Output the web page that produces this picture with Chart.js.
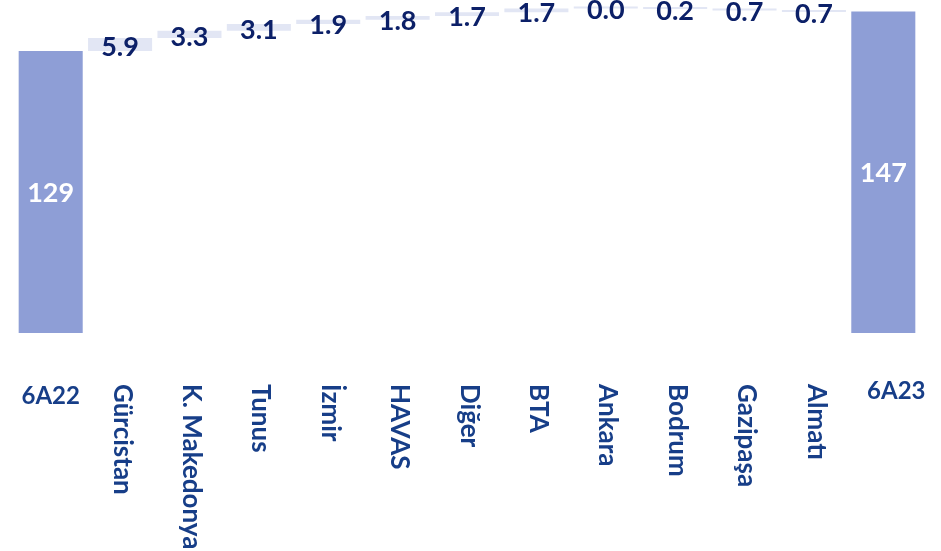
<!DOCTYPE html>
<html>
<head>
<meta charset="utf-8">
<script src="https://cdn.jsdelivr.net/npm/chart.js@4/dist/chart.umd.min.js"></script>
<style>
  html, body { margin: 0; padding: 0; background: #ffffff; }
  #wrap { width: 941px; height: 551px; }
</style>
</head>
<body>
<div id="wrap"><canvas id="c" width="941" height="551"></canvas></div>
<script>
// Waterfall: 6A22 total, change per unit, 6A23 total
const categories = ['6A22', 'Gürcistan', 'K. Makedonya', 'Tunus', 'İzmir', 'HAVAS', 'Diğer', 'BTA', 'Ankara', 'Bodrum', 'Gazipaşa', 'Almatı', '6A23'];
const startTotal = 129;
const endTotal = 147;
const changes = [5.9, 3.3, 3.1, 1.9, 1.8, 1.7, 1.7, 0.0, -0.2, -0.7, -0.7];
const changeLabels = ['5.9', '3.3', '3.1', '1.9', '1.8', '1.7', '1.7', '0.0', '0.2', '0.7', '0.7'];
const totalLabels = ['129', '147'];

const TOTAL_COLOR = '#8e9ed6';
const STEP_COLOR = '#e2e6f4';
const VALUE_COLOR = '#0c2068';
const AXIS_COLOR = '#173e88';
const FONT = 'Lato, "Open Sans", sans-serif';

// floating [from, to] ranges for each bar
const ranges = [[0, startTotal]];
let level = startTotal;
changes.forEach(d => {
  const next = level + d;
  ranges.push([Math.min(level, next), Math.max(level, next)]);
  level = next;
});
ranges.push([0, endTotal]);

const colors = categories.map((_, i) => (i === 0 || i === categories.length - 1) ? TOTAL_COLOR : STEP_COLOR);
const labels = [totalLabels[0], ...changeLabels, totalLabels[1]];

const labelPlugin = {
  id: 'waterfallLabels',
  afterDatasetsDraw(chart) {
    const ctx = chart.ctx;
    const meta = chart.getDatasetMeta(0);
    const xs = chart.scales.x;
    ctx.save();
    meta.data.forEach((bar, i) => {
      const isTotal = (i === 0 || i === categories.length - 1);
      const top = Math.min(bar.y, bar.base);
      const bottom = Math.max(bar.y, bar.base);
      ctx.font = 'bold 27px ' + FONT;
      ctx.textAlign = 'center';
      ctx.textBaseline = 'middle';
      if (isTotal) {
        ctx.fillStyle = '#ffffff';
        ctx.fillText(labels[i], bar.x, (top + bottom) / 2 + 1);
      } else {
        ctx.fillStyle = VALUE_COLOR;
        ctx.fillText(labels[i], bar.x, (top + bottom) / 2 + 3);
      }
    });

    // category labels: totals horizontal, units rotated clockwise
    categories.forEach((name, i) => {
      const x = xs.getPixelForValue(i);
      const isTotal = (i === 0 || i === categories.length - 1);
      ctx.fillStyle = AXIS_COLOR;
      if (isTotal) {
        ctx.font = 'bold 24px ' + FONT;
        ctx.textAlign = 'center';
        ctx.textBaseline = 'middle';
        ctx.fillText(name, x + (i === 0 ? 0 : 13), i === 0 ? 396 : 391);
      } else {
        ctx.font = 'bold 26px ' + FONT;
        ctx.save();
        ctx.translate(x + 2, 384);
        ctx.rotate(Math.PI / 2);
        ctx.textAlign = 'left';
        ctx.textBaseline = 'middle';
        ctx.fillText(name, 0, 0);
        ctx.restore();
      }
    });
    ctx.restore();
  }
};

new Chart(document.getElementById('c'), {
  type: 'bar',
  data: {
    labels: categories,
    datasets: [{
      data: ranges,
      backgroundColor: colors,
      borderWidth: 0,
      borderSkipped: false,
      barPercentage: 0.923,
      categoryPercentage: 1,
      minBarLength: 2
    }]
  },
  options: {
    responsive: false,
    animation: false,
    layout: { padding: { left: 16, right: 23, top: 5, bottom: 218 } },
    plugins: {
      legend: { display: false },
      tooltip: { enabled: false }
    },
    scales: {
      x: { display: false, offset: true },
      y: { display: false, min: 0, max: 150 }
    }
  },
  plugins: [labelPlugin]
});
</script>
</body>
</html>
